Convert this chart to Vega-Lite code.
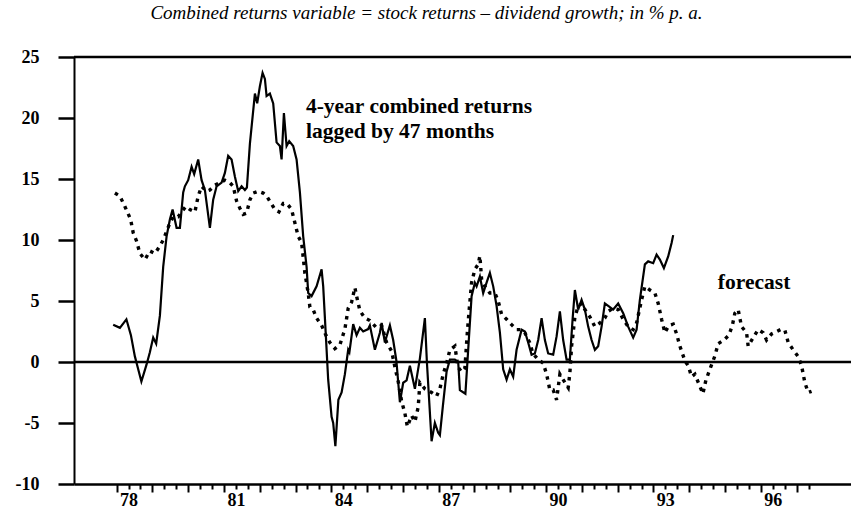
{
  "$schema": "https://vega.github.io/schema/vega-lite/v6.json",
  "autosize": {"type": "none"},
  "width": 777,
  "height": 427,
  "padding": {"left": 74, "top": 57, "right": 0, "bottom": 30},
  "background": "white",
  "config": {"view": {"stroke": null}, "font": "Liberation Serif"},
  "title": {
    "text": "Combined returns variable = stock returns – dividend growth; in % p. a.",
    "font": "Liberation Serif",
    "fontStyle": "italic",
    "fontWeight": "normal",
    "fontSize": 19,
    "color": "black",
    "anchor": "middle",
    "dx": -36,
    "offset": 25
  },
  "datasets": {
    "combined": [
      {"t":77.905,"v":3.06},{"t":78.092,"v":2.8},{"t":78.274,"v":3.5},{"t":78.40,"v":2.2},{"t":78.511,"v":0.46},{"t":78.595,"v":-0.5},{"t":78.693,"v":-1.6},{"t":78.838,"v":-0.2},{"t":78.930,"v":0.8},{"t":79.023,"v":2.0},{"t":79.106,"v":1.5},{"t":79.210,"v":3.8},{"t":79.302,"v":7.8},{"t":79.397,"v":10.3},{"t":79.490,"v":11.7},{"t":79.565,"v":12.5},{"t":79.676,"v":11.0},{"t":79.769,"v":11.0},{"t":79.861,"v":13.9},{"t":79.908,"v":14.4},{"t":80.000,"v":14.9},{"t":80.096,"v":16.0},{"t":80.168,"v":15.4},{"t":80.280,"v":16.6},{"t":80.375,"v":14.9},{"t":80.467,"v":14.1},{"t":80.607,"v":11.0},{"t":80.699,"v":13.3},{"t":80.794,"v":14.4},{"t":80.934,"v":14.7},{"t":81.026,"v":15.5},{"t":81.118,"v":16.9},{"t":81.213,"v":16.6},{"t":81.305,"v":15.2},{"t":81.398,"v":14.0},{"t":81.493,"v":14.4},{"t":81.585,"v":14.1},{"t":81.641,"v":14.3},{"t":81.725,"v":17.9},{"t":81.865,"v":22.0},{"t":81.928,"v":21.2},{"t":82.004,"v":22.6},{"t":82.079,"v":23.7},{"t":82.144,"v":23.2},{"t":82.191,"v":21.8},{"t":82.283,"v":22.0},{"t":82.376,"v":21.2},{"t":82.470,"v":18.0},{"t":82.563,"v":17.7},{"t":82.610,"v":16.6},{"t":82.675,"v":20.4},{"t":82.750,"v":17.7},{"t":82.823,"v":18.1},{"t":82.934,"v":17.7},{"t":83.029,"v":16.6},{"t":83.122,"v":13.9},{"t":83.214,"v":10.3},{"t":83.309,"v":7.8},{"t":83.354,"v":5.65},{"t":83.448,"v":5.4},{"t":83.588,"v":6.2},{"t":83.728,"v":7.6},{"t":83.773,"v":6.2},{"t":83.848,"v":2.1},{"t":83.912,"v":-1.45},{"t":84.007,"v":-4.5},{"t":84.052,"v":-5.0},{"t":84.113,"v":-6.9},{"t":84.197,"v":-3.1},{"t":84.287,"v":-2.5},{"t":84.379,"v":-1.0},{"t":84.471,"v":1.0},{"t":84.505,"v":0.8},{"t":84.611,"v":3.1},{"t":84.706,"v":2.2},{"t":84.798,"v":2.8},{"t":84.890,"v":2.5},{"t":85.030,"v":2.7},{"t":85.077,"v":3.0},{"t":85.217,"v":1.0},{"t":85.357,"v":2.4},{"t":85.404,"v":3.2},{"t":85.497,"v":1.6},{"t":85.544,"v":2.1},{"t":85.636,"v":3.0},{"t":85.728,"v":1.8},{"t":85.818,"v":0.1},{"t":85.916,"v":-3.3},{"t":86.008,"v":-1.7},{"t":86.103,"v":-1.5},{"t":86.195,"v":-0.3},{"t":86.335,"v":-2.2},{"t":86.475,"v":0.3},{"t":86.614,"v":3.6},{"t":86.670,"v":0.0},{"t":86.801,"v":-6.5},{"t":86.893,"v":-5.0},{"t":86.986,"v":-5.8},{"t":87.033,"v":-6.0},{"t":87.117,"v":-3.6},{"t":87.220,"v":-0.8},{"t":87.313,"v":0.2},{"t":87.452,"v":0.2},{"t":87.545,"v":0.0},{"t":87.592,"v":-2.3},{"t":87.746,"v":-2.6},{"t":87.824,"v":1.0},{"t":87.919,"v":5.4},{"t":88.011,"v":6.5},{"t":88.059,"v":6.2},{"t":88.151,"v":7.0},{"t":88.243,"v":5.65},{"t":88.338,"v":6.5},{"t":88.430,"v":7.3},{"t":88.523,"v":6.2},{"t":88.617,"v":4.6},{"t":88.710,"v":2.4},{"t":88.802,"v":-0.6},{"t":88.897,"v":-1.45},{"t":88.989,"v":-0.6},{"t":89.081,"v":-1.2},{"t":89.176,"v":1.0},{"t":89.316,"v":2.65},{"t":89.408,"v":2.5},{"t":89.500,"v":1.6},{"t":89.595,"v":0.6},{"t":89.687,"v":0.7},{"t":89.780,"v":1.8},{"t":89.875,"v":3.6},{"t":89.967,"v":1.8},{"t":90.059,"v":0.7},{"t":90.199,"v":0.6},{"t":90.294,"v":2.1},{"t":90.386,"v":4.15},{"t":90.478,"v":1.8},{"t":90.573,"v":0.2},{"t":90.665,"v":0.2},{"t":90.741,"v":3.5},{"t":90.805,"v":5.9},{"t":90.897,"v":4.3},{"t":90.992,"v":5.1},{"t":91.084,"v":4.3},{"t":91.177,"v":2.9},{"t":91.272,"v":1.8},{"t":91.364,"v":1.0},{"t":91.456,"v":1.3},{"t":91.551,"v":2.9},{"t":91.643,"v":4.8},{"t":91.736,"v":4.6},{"t":91.875,"v":4.3},{"t":92.015,"v":4.8},{"t":92.155,"v":4.0},{"t":92.294,"v":2.9},{"t":92.434,"v":2.0},{"t":92.529,"v":2.65},{"t":92.621,"v":5.1},{"t":92.761,"v":8.0},{"t":92.853,"v":8.25},{"t":92.993,"v":8.1},{"t":93.088,"v":8.8},{"t":93.180,"v":8.4},{"t":93.292,"v":7.7},{"t":93.412,"v":8.65},{"t":93.507,"v":9.75},{"t":93.552,"v":10.4}
    ],
    "forecast": [
      {"t":77.953,"v":13.85},{"t":78.092,"v":13.6},{"t":78.232,"v":12.75},{"t":78.391,"v":11.7},{"t":78.464,"v":10.6},{"t":78.559,"v":9.9},{"t":78.651,"v":8.9},{"t":78.791,"v":8.4},{"t":78.930,"v":9.1},{"t":79.070,"v":8.9},{"t":79.210,"v":9.5},{"t":79.302,"v":10.0},{"t":79.397,"v":10.7},{"t":79.490,"v":11.4},{"t":79.581,"v":11.9},{"t":79.721,"v":11.9},{"t":79.816,"v":12.3},{"t":79.936,"v":12.75},{"t":80.048,"v":12.5},{"t":80.188,"v":12.3},{"t":80.280,"v":13.6},{"t":80.375,"v":14.4},{"t":80.515,"v":14.0},{"t":80.607,"v":14.1},{"t":80.747,"v":14.5},{"t":80.886,"v":14.7},{"t":81.026,"v":14.9},{"t":81.166,"v":14.7},{"t":81.258,"v":14.4},{"t":81.353,"v":13.2},{"t":81.445,"v":12.6},{"t":81.537,"v":12.1},{"t":81.632,"v":12.2},{"t":81.725,"v":13.3},{"t":81.817,"v":13.85},{"t":81.956,"v":14.0},{"t":82.096,"v":13.85},{"t":82.191,"v":13.6},{"t":82.297,"v":13.1},{"t":82.423,"v":12.5},{"t":82.535,"v":12.3},{"t":82.655,"v":13.0},{"t":82.758,"v":13.0},{"t":82.890,"v":12.5},{"t":82.982,"v":11.4},{"t":83.074,"v":10.3},{"t":83.169,"v":9.8},{"t":83.261,"v":7.3},{"t":83.354,"v":5.65},{"t":83.401,"v":4.5},{"t":83.493,"v":4.3},{"t":83.588,"v":3.6},{"t":83.728,"v":3.0},{"t":83.848,"v":2.2},{"t":83.960,"v":1.6},{"t":84.099,"v":1.1},{"t":84.239,"v":1.4},{"t":84.379,"v":2.7},{"t":84.471,"v":4.4},{"t":84.566,"v":4.9},{"t":84.658,"v":6.1},{"t":84.706,"v":5.4},{"t":84.798,"v":4.2},{"t":84.938,"v":3.6},{"t":85.077,"v":3.4},{"t":85.265,"v":2.8},{"t":85.404,"v":3.0},{"t":85.544,"v":1.6},{"t":85.684,"v":0.9},{"t":85.776,"v":-0.4},{"t":85.868,"v":-1.6},{"t":85.963,"v":-3.2},{"t":86.055,"v":-4.2},{"t":86.125,"v":-5.3},{"t":86.243,"v":-4.4},{"t":86.335,"v":-4.9},{"t":86.427,"v":-3.7},{"t":86.475,"v":-1.7},{"t":86.614,"v":-2.2},{"t":86.801,"v":-2.5},{"t":86.941,"v":-2.8},{"t":87.033,"v":-2.2},{"t":87.126,"v":-1.0},{"t":87.220,"v":-0.1},{"t":87.313,"v":1.0},{"t":87.452,"v":1.3},{"t":87.536,"v":-0.4},{"t":87.640,"v":-0.8},{"t":87.732,"v":-0.5},{"t":87.802,"v":2.5},{"t":87.852,"v":4.3},{"t":87.919,"v":6.5},{"t":88.011,"v":7.6},{"t":88.103,"v":8.0},{"t":88.151,"v":8.7},{"t":88.198,"v":6.8},{"t":88.290,"v":6.2},{"t":88.430,"v":5.65},{"t":88.570,"v":5.65},{"t":88.662,"v":5.0},{"t":88.757,"v":3.9},{"t":88.897,"v":3.5},{"t":89.036,"v":3.06},{"t":89.176,"v":2.65},{"t":89.316,"v":2.65},{"t":89.408,"v":2.4},{"t":89.540,"v":1.6},{"t":89.632,"v":0.7},{"t":89.780,"v":0.2},{"t":89.919,"v":-0.1},{"t":90.015,"v":-1.0},{"t":90.107,"v":-2.3},{"t":90.199,"v":-2.3},{"t":90.294,"v":-3.1},{"t":90.386,"v":-1.0},{"t":90.478,"v":-1.45},{"t":90.618,"v":-2.1},{"t":90.665,"v":-0.9},{"t":90.713,"v":1.3},{"t":90.758,"v":2.4},{"t":90.805,"v":3.7},{"t":90.897,"v":4.55},{"t":90.992,"v":4.8},{"t":91.084,"v":4.3},{"t":91.224,"v":3.7},{"t":91.364,"v":2.9},{"t":91.504,"v":3.2},{"t":91.643,"v":3.6},{"t":91.736,"v":4.15},{"t":91.875,"v":4.4},{"t":92.015,"v":4.3},{"t":92.155,"v":3.5},{"t":92.294,"v":2.9},{"t":92.434,"v":2.65},{"t":92.529,"v":3.2},{"t":92.669,"v":5.1},{"t":92.761,"v":6.2},{"t":92.901,"v":5.9},{"t":93.041,"v":5.65},{"t":93.133,"v":4.8},{"t":93.228,"v":3.5},{"t":93.320,"v":2.4},{"t":93.431,"v":3.0},{"t":93.552,"v":3.1},{"t":93.647,"v":2.3},{"t":93.739,"v":1.3},{"t":93.879,"v":0.1},{"t":93.971,"v":-0.3},{"t":94.066,"v":-1.2},{"t":94.158,"v":-1.0},{"t":94.298,"v":-2.0},{"t":94.382,"v":-2.6},{"t":94.465,"v":-1.5},{"t":94.577,"v":-0.6},{"t":94.717,"v":0.5},{"t":94.809,"v":1.5},{"t":94.968,"v":1.8},{"t":95.108,"v":2.2},{"t":95.205,"v":3.0},{"t":95.275,"v":4.0},{"t":95.367,"v":4.3},{"t":95.462,"v":2.9},{"t":95.602,"v":2.4},{"t":95.647,"v":1.3},{"t":95.787,"v":2.0},{"t":95.926,"v":2.65},{"t":96.066,"v":2.4},{"t":96.161,"v":1.8},{"t":96.301,"v":2.3},{"t":96.441,"v":2.5},{"t":96.580,"v":2.7},{"t":96.673,"v":2.6},{"t":96.765,"v":1.6},{"t":96.905,"v":1.0},{"t":97.044,"v":0.45},{"t":97.139,"v":-0.3},{"t":97.231,"v":-1.7},{"t":97.324,"v":-2.5},{"t":97.418,"v":-2.4}
    ],
    "notes": [
      {"t":83.29,"v":20.9,"label":"4-year combined returns"},
      {"t":83.29,"v":18.85,"label":"lagged by 47 months"},
      {"t":94.80,"v":6.45,"label":"forecast"}
    ]
  },
  "layer": [
    {
      "data": {"values": [{"y": 0}, {"y": 25}]},
      "mark": {"type": "rule", "color": "black", "strokeWidth": 2.5},
      "encoding": {
        "y": {"field": "y", "type": "quantitative", "scale": {"domain": [-10, 25], "nice": false, "zero": false},
          "axis": {
            "values": [-10, -5, 0, 5, 10, 15, 20, 25],
            "tickCount": 100,
            "title": null,
            "grid": false,
            "domainColor": "black",
            "domainWidth": 2,
            "tickColor": "black",
            "tickSize": 16,
            "tickWidth": 2.5,
            "labelFont": "Liberation Serif",
            "labelFontWeight": "bold",
            "labelFontSize": 18,
            "labelColor": "black",
            "labelPadding": 19,
            "labelBaseline": "middle",
            "labelExpr": "datum.value < 0 ? '-' + abs(datum.value) : '' + datum.value"
          }
        }
      }
    },
    {
      "data": {"name": "forecast"},
      "mark": {"type": "line", "color": "black", "strokeWidth": 3.4, "strokeDash": [3.5, 5], "interpolate": "linear"},
      "encoding": {
        "x": {"field": "t", "type": "quantitative", "scale": {"domain": [76.81, 98.52], "nice": false, "zero": false},
          "axis": {
            "orient": "bottom",
            "values": [78,78.3333,78.6667,79,79.3333,79.6667,80,80.3333,80.6667,81,81.3333,81.6667,82,82.3333,82.6667,83,83.3333,83.6667,84,84.3333,84.6667,85,85.3333,85.6667,86,86.3333,86.6667,87,87.3333,87.6667,88,88.3333,88.6667,89,89.3333,89.6667,90,90.3333,90.6667,91,91.3333,91.6667,92,92.3333,92.6667,93,93.3333,93.6667,94,94.3333,94.6667,95,95.3333,95.6667,96,96.3333,96.6667,97,97.3333],
            "tickCount": 500,
            "title": null,
            "grid": false,
            "domainColor": "black",
            "domainWidth": 2.5,
            "tickColor": "black",
            "tickWidth": 2,
            "tickSize": {"condition": {"test": "abs(datum.value - round(datum.value)) < 0.01", "value": 8}, "value": 5},
            "labelPadding": 2,
            "labelFont": "Liberation Serif",
            "labelFontWeight": "bold",
            "labelFontSize": 18,
            "labelColor": "black",
            "labelOverlap": false,
            "labelFlush": false,
            "labelExpr": "(abs(datum.value - floor(datum.value) - 0.3333) < 0.01 && floor(datum.value) % 3 == 0) ? '' + floor(datum.value) : ''"
          }
        },
        "y": {"field": "v", "type": "quantitative"}
      }
    },
    {
      "data": {"name": "combined"},
      "mark": {"type": "line", "color": "black", "strokeWidth": 2.2, "interpolate": "linear"},
      "encoding": {
        "x": {"field": "t", "type": "quantitative"},
        "y": {"field": "v", "type": "quantitative"}
      }
    },
    {
      "data": {"name": "notes"},
      "mark": {"type": "text", "align": "left", "baseline": "middle", "font": "Liberation Serif", "fontWeight": "bold", "fontSize": 21.5, "color": "black"},
      "encoding": {
        "x": {"field": "t", "type": "quantitative"},
        "y": {"field": "v", "type": "quantitative"},
        "text": {"field": "label"}
      }
    }
  ]
}
